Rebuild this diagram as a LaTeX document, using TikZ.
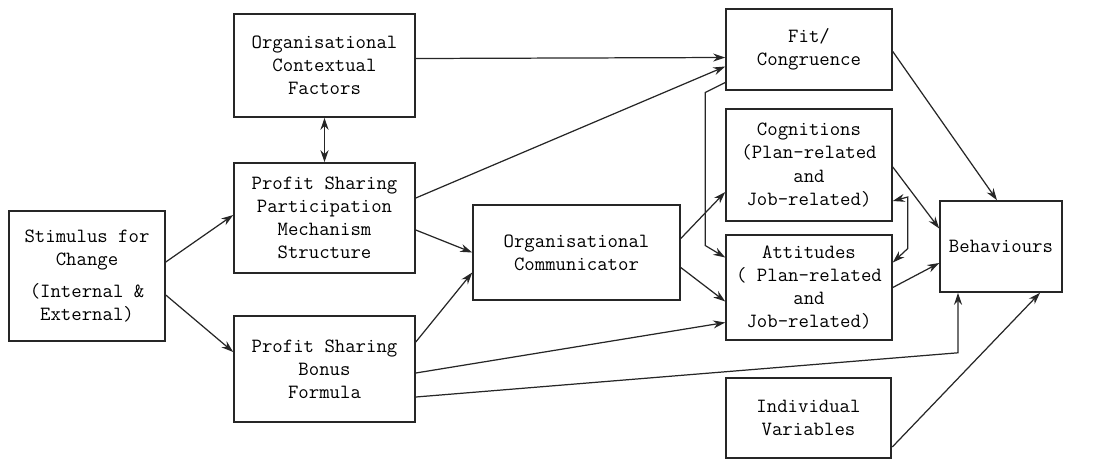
\documentclass[tikz,border=0pt]{standalone}
\usepackage{tikz}
\usetikzlibrary{arrows.meta, positioning, calc}
\tikzset{
    factor/.style={
        rectangle, draw=black!85, line width=0.9pt, align=center,
        inner sep=2pt, font=\ttfamily\fontsize{11.5}{13.2}\selectfont
    },
    arrow/.style={
        -{Stealth[length=2.4mm, width=1.6mm]}, line width=0.7pt, draw=black!85
    },
    dblarrow/.style={
        {Stealth[length=2.4mm, width=1.6mm]}-{Stealth[length=2.4mm, width=1.6mm]},
        line width=0.7pt, draw=black!85
    }
}

\begin{document}
\begin{tikzpicture}[x=0.02cm, y=-0.02cm]

    \useasboundingbox (0,0) rectangle (1103,461);

    \node[factor, minimum width=3.12cm, minimum height=2.6cm]  (stim)  at (87,276)
        {Stimulus for\\Change\\[5pt](Internal \&\\External)};
    \node[factor, minimum width=3.62cm, minimum height=2.06cm] (ctx)   at (324.5,65.5)
        {Organisational\\Contextual\\Factors};
    \node[factor, minimum width=3.62cm, minimum height=2.2cm]  (part)  at (324.5,218)
        {Profit Sharing\\Participation\\Mechanism\\Structure};
    \node[factor, minimum width=3.62cm, minimum height=2.12cm] (bonus) at (324.5,369)
        {Profit Sharing\\Bonus\\Formula};
    \node[factor, minimum width=4.14cm, minimum height=1.9cm]  (comm)  at (576.5,252.5)
        {Organisational\\Communicator};
    \node[factor, minimum width=3.32cm, minimum height=1.62cm] (fit)   at (809,49.5)
        {Fit/\\Congruence};
    \node[factor, minimum width=3.32cm, minimum height=2.24cm] (cogn)  at (809,165)
        {Cognitions\\(Plan-related\\and\\ Job-related)};
    \node[factor, minimum width=3.32cm, minimum height=2.1cm]  (att)   at (809,287.5)
        {Attitudes\\( Plan-related\\and\\Job-related)};
    \node[factor, minimum width=3.3cm, minimum height=1.6cm]   (indiv) at (808.5,418)
        {Individual\\Variables};
    \node[factor, minimum width=2.44cm, minimum height=1.82cm] (behav) at (1001,246.5)
        {Behaviours};

    \draw[arrow] ($(stim.east)+(0,-14)$)   -- ($(part.west)+(0,-3)$);
    \draw[arrow] ($(stim.east)+(0,19)$)    -- ($(bonus.west)+(0,-17)$);
    \draw[dblarrow] (ctx.south) -- (part.north);
    \draw[arrow] ($(ctx.east)+(0,-7)$)     -- ($(fit.west)+(0,8)$);
    \draw[arrow] ($(part.east)+(0,-20)$)   -- ($(fit.west)+(0,17)$);
    \draw[arrow] ($(part.east)+(0,12)$)    -- (comm.west);
    \draw[arrow] ($(bonus.east)+(0,-27)$)  -- ($(comm.west)+(0,20)$);
    \draw[arrow] ($(bonus.east)+(0,4)$)    -- ($(att.west)+(0,35)$);
    \draw[arrow] ($(bonus.east)+(0,28)$)   -- ($(behav.south)+(-43,60)$) -- ($(behav.south)+(-43,0)$);
    \draw[arrow] ($(comm.east)+(0,-14)$)   -- ($(cogn.west)+(0,27)$);
    \draw[arrow] ($(comm.east)+(0,15)$)    -- ($(att.west)+(0,14)$);
    \draw[arrow] ($(fit.west)+(0,33)$)     -- ($(fit.west)+(-20,43)$)
        -- ($(att.west)+(-20,-42)$) -- ($(att.west)+(0,-30)$);
    \draw[arrow] ($(fit.east)+(0,2)$)      -- ($(behav.north)+(-4,0)$);
    \draw[arrow] ($(cogn.east)+(0,2)$)     -- ($(behav.west)+(0,-18)$);
    \draw[dblarrow] ($(cogn.east)+(0,36)$) -- ($(cogn.east)+(15,32)$)
        -- ($(att.east)+(15,-39)$) -- ($(att.east)+(0,-25)$);
    \draw[arrow] (att.east)                -- ($(behav.west)+(0,16.5)$);
    \draw[arrow] ($(indiv.east)+(0.5,29)$) -- ($(behav.south)+(39,0)$);

\end{tikzpicture}
\end{document}
